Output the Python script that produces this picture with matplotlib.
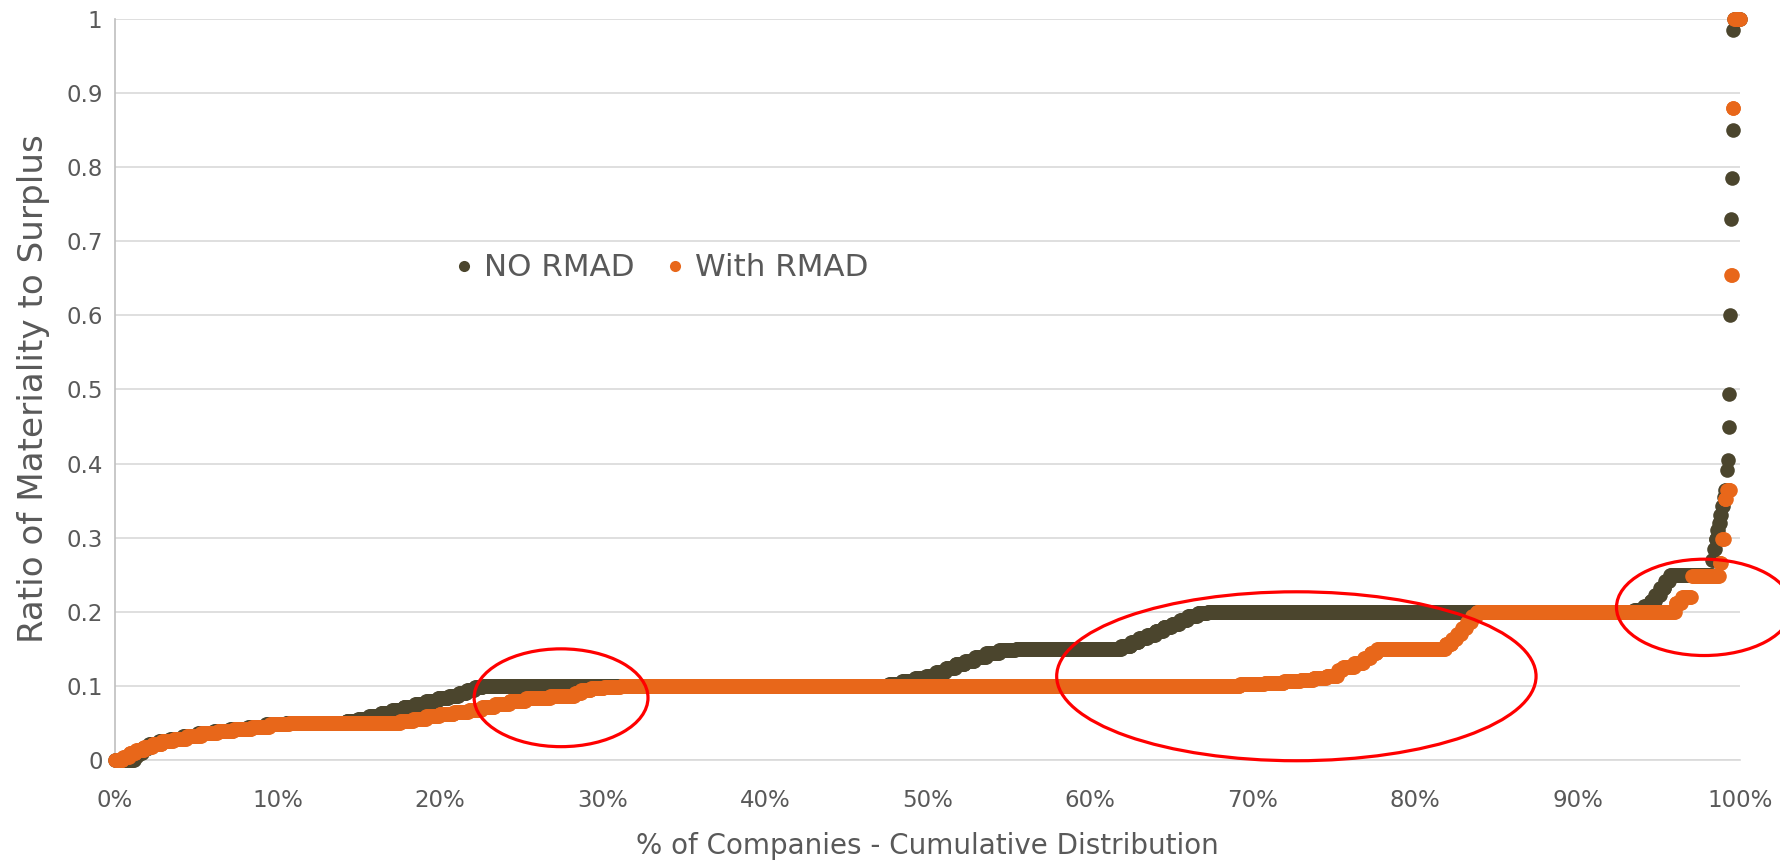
import matplotlib
matplotlib.use("Agg")
import matplotlib.pyplot as plt
import numpy as np
from matplotlib import patches
from matplotlib.lines import Line2D
from matplotlib.ticker import FuncFormatter, MultipleLocator, PercentFormatter

# ratio levels (sorted) and how many companies sit at each level
no_rmad_levels = [0.000, 0.005, 0.010, 0.016, 0.021, 0.025, 0.029, 0.033, 0.036, 0.039,
                  0.042, 0.045, 0.048, 0.050, 0.052, 0.055, 0.059, 0.063, 0.067, 0.071,
                  0.075, 0.079, 0.083, 0.087, 0.091, 0.095, 0.098, 0.100, 0.103, 0.106,
                  0.110, 0.114, 0.119, 0.124, 0.129, 0.134, 0.139, 0.144, 0.148, 0.150,
                  0.154, 0.159, 0.164, 0.169, 0.174, 0.179, 0.184, 0.189, 0.194, 0.198,
                  0.200, 0.203, 0.208, 0.215, 0.222, 0.232, 0.242, 0.250, 0.270, 0.285,
                  0.298, 0.310, 0.320, 0.330, 0.343, 0.355, 0.365, 0.392, 0.405, 0.449,
                  0.494, 0.600, 0.730, 0.785, 0.850, 0.985, 1.000]
no_rmad_counts = [24, 4, 6, 8, 12, 14, 16, 18, 20, 20,
                  22, 22, 24, 75, 14, 14, 14, 14, 14, 14,
                  14, 14, 14, 12, 10, 10, 10, 499, 16, 16,
                  14, 12, 12, 12, 12, 12, 14, 16, 20, 130,
                  12, 10, 10, 10, 10, 10, 10, 10, 12, 12,
                  525, 12, 8, 6, 6, 6, 6, 52, 2, 2,
                  2, 2, 2, 2, 2, 2, 2, 1, 1, 1,
                  1, 1, 1, 1, 1, 1, 8]

with_rmad_levels = [0.000, 0.004, 0.009, 0.013, 0.017, 0.021, 0.025, 0.029, 0.033, 0.036,
                    0.039, 0.042, 0.045, 0.048, 0.050, 0.053, 0.056, 0.059, 0.062, 0.065,
                    0.068, 0.072, 0.076, 0.080, 0.083, 0.086, 0.091, 0.094, 0.097, 0.099,
                    0.100, 0.102, 0.104, 0.106, 0.108, 0.111, 0.113, 0.122, 0.126, 0.131,
                    0.137, 0.144, 0.150, 0.156, 0.163, 0.170, 0.178, 0.186, 0.194, 0.200,
                    0.212, 0.220, 0.248, 0.266, 0.298, 0.352, 0.365, 0.655, 0.880, 1.000]
with_rmad_counts = [10, 8, 8, 10, 10, 12, 14, 16, 18, 20,
                    20, 22, 22, 24, 136, 16, 16, 16, 18, 18,
                    16, 16, 18, 20, 30, 30, 8, 12, 16, 20,
                    760, 30, 24, 20, 16, 16, 14, 6, 14, 12,
                    8, 8, 84, 8, 6, 6, 6, 6, 6, 244,
                    8, 12, 34, 3, 3, 3, 5, 2, 2, 8]

series_names = ["NO RMAD", "With RMAD"]
series_colors = ["#4B452D", "#E8671A"]

# highlighted regions: (x centre, y centre, width, height) in data units
highlights = [(0.2745, 0.084, 0.107, 0.132),
              (0.727, 0.113, 0.295, 0.228),
              (0.978, 0.206, 0.108, 0.130)]

GRAY = "#595959"


def cumulative(levels, counts):
    y = np.repeat(levels, counts)
    x = np.arange(len(y)) / (len(y) - 1)
    return x, y


def main():
    plt.rcParams["font.family"] = ["DejaVu Sans"]
    fig = plt.figure(figsize=(17.8, 8.63), dpi=100)
    ax = fig.add_axes([115 / 1780, 103 / 863, 1625 / 1780, 741 / 863])

    for (levels, counts), color in zip([(no_rmad_levels, no_rmad_counts),
                                        (with_rmad_levels, with_rmad_counts)], series_colors):
        x, y = cumulative(levels, counts)
        ax.plot(x, y, ls="none", marker="o", ms=10.5, mew=0, color=color, clip_on=False, zorder=3)

    for cx, cy, w, h in highlights:
        ax.add_patch(patches.Ellipse((cx, cy), w, h, fill=False, ec="#FF0000", lw=2.3,
                                     clip_on=False, zorder=4))

    ax.set_xlim(0, 1)
    ax.set_ylim(0, 1)
    ax.xaxis.set_major_locator(MultipleLocator(0.1))
    ax.xaxis.set_major_formatter(PercentFormatter(xmax=1, decimals=0))
    ax.yaxis.set_major_locator(MultipleLocator(0.1))
    ax.yaxis.set_major_formatter(FuncFormatter(lambda v, _: f"{v:g}"))
    ax.grid(axis="y", color="#D9D9D9", lw=1.2)
    ax.set_axisbelow(True)
    for side in ["top", "right"]:
        ax.spines[side].set_visible(False)
    ax.spines["left"].set_color("#BFBFBF")
    ax.spines["bottom"].set_color("#D9D9D9")
    ax.spines["left"].set_linewidth(1.2)
    ax.spines["bottom"].set_linewidth(1.2)
    ax.tick_params(axis="y", length=0, pad=9, labelsize=16.5, labelcolor=GRAY)
    ax.tick_params(axis="x", length=0, pad=21, labelsize=16.5, labelcolor=GRAY)

    fig.text(927 / 1780, 1 - 846 / 863, "% of Companies - Cumulative Distribution",
             fontsize=20, color=GRAY, ha="center", va="center")
    fig.text(34 / 1780, 1 - 389 / 863, "Ratio of Materiality to Surplus",
             fontsize=24.6, color=GRAY, ha="center", va="center", rotation=90)

    handles = [Line2D([], [], ls="none", marker="o", ms=8, mew=0, color=c) for c in series_colors]
    ax.legend(handles, series_names, loc="center left", bbox_to_anchor=(0.209, 0.664),
              ncol=2, frameon=False, fontsize=22.3, labelcolor=GRAY, handlelength=0.6,
              handletextpad=0.35, columnspacing=1.0, borderpad=0, borderaxespad=0)

    fig.savefig("out.png", dpi=100)
    plt.close(fig)


if __name__ == "__main__":
    main()
